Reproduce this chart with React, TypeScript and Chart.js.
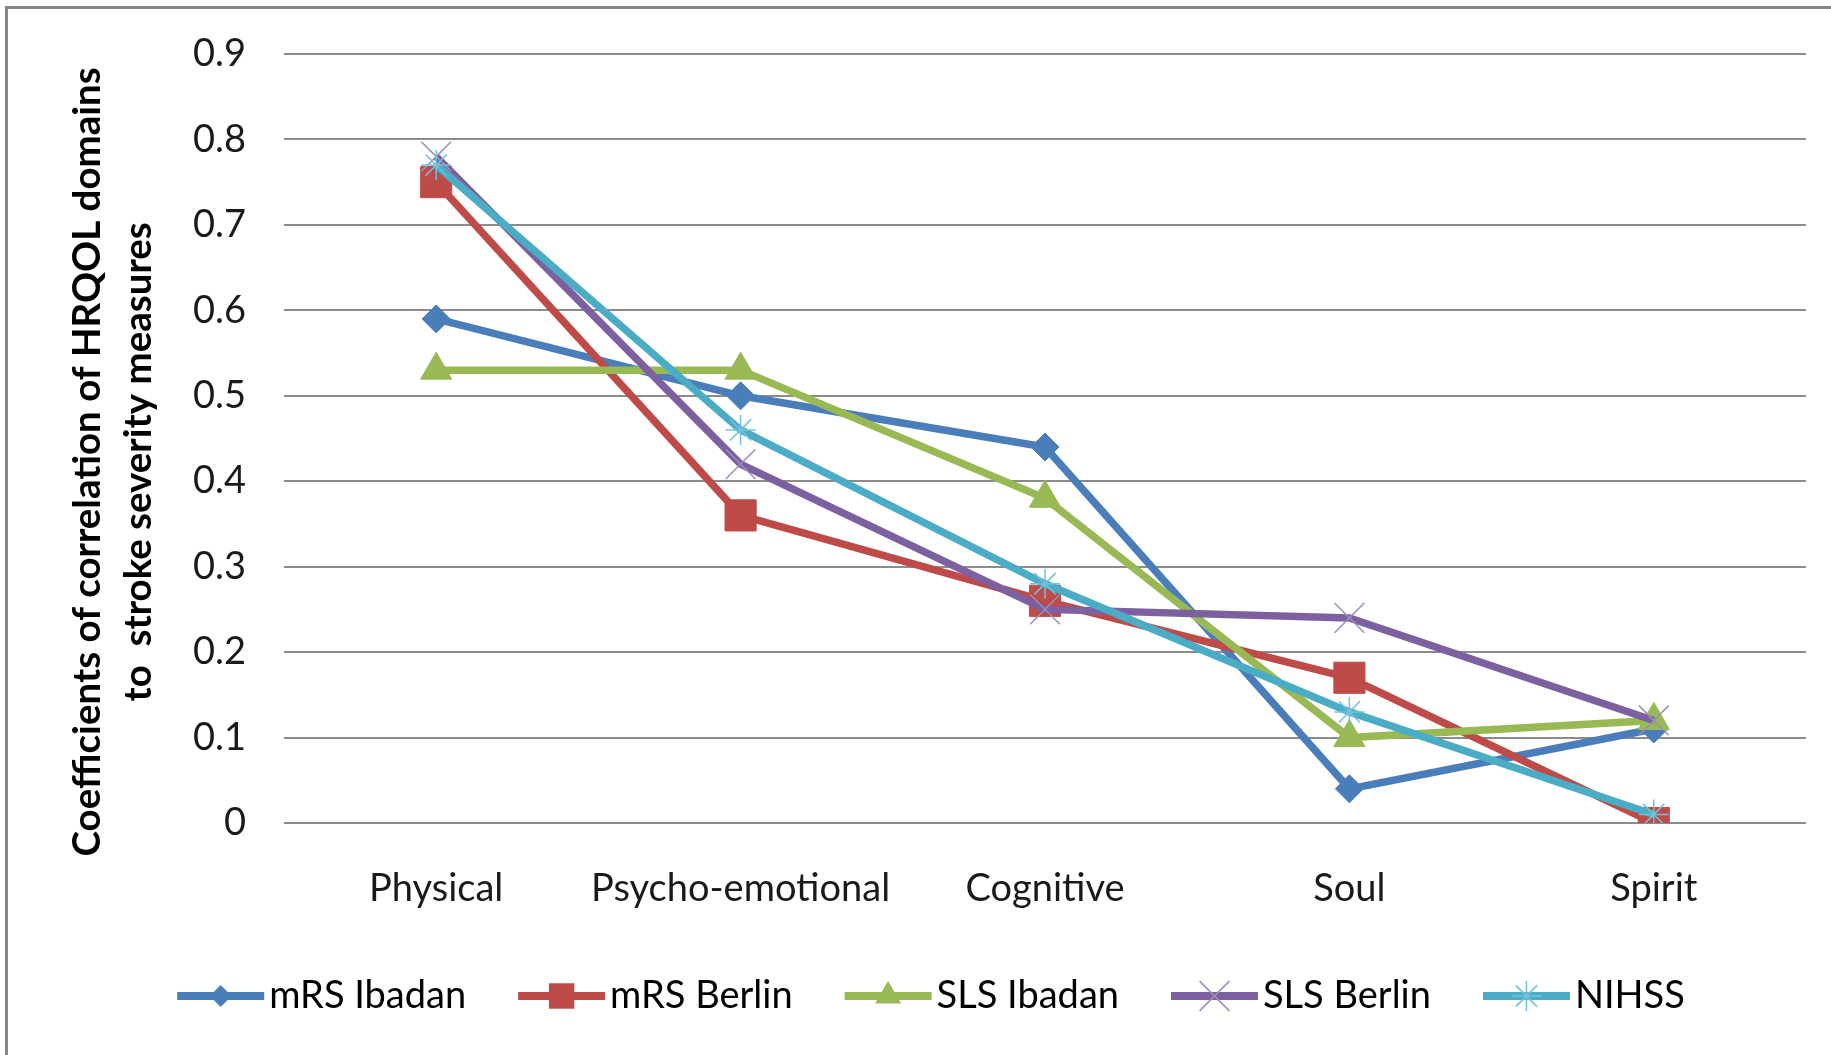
import React, { useEffect, useRef } from "react";
import { Chart, registerables } from "chart.js";

Chart.register(...registerables);

const categories = ["Physical", "Psycho-emotional", "Cognitive", "Soul", "Spirit"];
const mrsIbadan = [0.59, 0.5, 0.44, 0.04, 0.11];
const mrsBerlin = [0.75, 0.36, 0.26, 0.17, 0.0];
const slsIbadan = [0.53, 0.53, 0.38, 0.1, 0.12];
const slsBerlin = [0.78, 0.42, 0.25, 0.24, 0.12];
const nihss = [0.77, 0.46, 0.28, 0.13, 0.01];
const seriesNames = ["mRS Ibadan", "mRS Berlin", "SLS Ibadan", "SLS Berlin", "NIHSS"];
const yMin = 0;
const yMax = 0.9;
const yStep = 0.1;
const yTitle = [
  "Coefficients of correlation of HRQOL domains     ",
  "to  stroke severity measures     ",
];

const FONT = "Lato, 'Open Sans', sans-serif";

const styles = [
  { color: "#4A7EBB", point: "rectRot", radius: 14, border: "#4A7EBB", bw: 1, lr: 11 },
  { color: "#BE4B48", point: "rect", radius: 22, border: "#BE4B48", bw: 1, lr: 18 },
  { color: "#98B954", point: "triangle", radius: 18, border: "#98B954", bw: 1, lr: 15 },
  { color: "#7D60A0", point: "crossRot", radius: 21, border: "#9a8fb8", bw: 1.5, lr: 21 },
  { color: "#4BACC6", point: "star", radius: 15, border: "#6fc3d8", bw: 1.5, lr: 15 },
];

const LEG_LINE = 87;

function drawMarker(ctx: CanvasRenderingContext2D, s: any, x: number, y: number) {
  const r = s.lr;
  ctx.save();
  ctx.fillStyle = s.color;
  ctx.strokeStyle = s.border;
  ctx.lineWidth = s.bw;
  ctx.beginPath();
  if (s.point === "rectRot") {
    ctx.moveTo(x - r, y);
    ctx.lineTo(x, y - r);
    ctx.lineTo(x + r, y);
    ctx.lineTo(x, y + r);
    ctx.closePath();
    ctx.fill();
  } else if (s.point === "rect") {
    const h = r * Math.SQRT1_2;
    ctx.rect(x - h, y - h, 2 * h, 2 * h);
    ctx.fill();
  } else if (s.point === "triangle") {
    ctx.moveTo(x, y - r);
    ctx.lineTo(x + r * 0.866, y + r * 0.5);
    ctx.lineTo(x - r * 0.866, y + r * 0.5);
    ctx.closePath();
    ctx.fill();
  } else if (s.point === "crossRot") {
    const o = r * Math.SQRT1_2;
    ctx.moveTo(x - o, y - o);
    ctx.lineTo(x + o, y + o);
    ctx.moveTo(x - o, y + o);
    ctx.lineTo(x + o, y - o);
    ctx.stroke();
  } else if (s.point === "star") {
    const o = r * Math.SQRT1_2;
    ctx.moveTo(x - o, y - o);
    ctx.lineTo(x + o, y + o);
    ctx.moveTo(x - o, y + o);
    ctx.lineTo(x + o, y - o);
    ctx.moveTo(x, y - r);
    ctx.lineTo(x, y + r);
    ctx.moveTo(x - r, y);
    ctx.lineTo(x + r, y);
    ctx.stroke();
  }
  ctx.restore();
}

const frame = {
  id: "frame",
  beforeDraw(chart: any) {
    const ctx = chart.ctx;
    ctx.save();
    ctx.fillStyle = "#ffffff";
    ctx.fillRect(0, 0, chart.width, chart.height);
    ctx.strokeStyle = "#858585";
    ctx.lineWidth = 3;
    ctx.strokeRect(6.5, 7.5, chart.width + 20, chart.height + 20);
    ctx.restore();
  },
};

const legendMarkers = {
  id: "legendMarkers",
  afterDraw(chart: any) {
    const lg = chart.legend;
    if (!lg || !lg.legendHitBoxes) return;
    const ctx = chart.ctx;
    lg.legendHitBoxes.forEach((hb: any, i: number) => {
      const cy = hb.top + hb.height / 2;
      ctx.save();
      ctx.fillStyle = styles[i].color;
      ctx.fillRect(hb.left, cy - 4, LEG_LINE, 8);
      ctx.restore();
      drawMarker(ctx, styles[i], hb.left + LEG_LINE / 2, cy);
    });
  },
};

export default function App() {
  const ref = useRef<HTMLCanvasElement | null>(null);
  useEffect(() => {
    if (!ref.current) return;
    const data = [mrsIbadan, mrsBerlin, slsIbadan, slsBerlin, nihss];
    const chart = new Chart(ref.current, {
      type: "line",
      data: {
        labels: categories,
        datasets: data.map((d, i) => ({
          label: seriesNames[i],
          data: d,
          borderColor: styles[i].color,
          backgroundColor: styles[i].color,
          borderWidth: 7.5,
          tension: 0,
          fill: false,
          pointStyle: styles[i].point as any,
          pointRadius: styles[i].radius,
          pointBackgroundColor: styles[i].color,
          pointBorderColor: styles[i].border,
          pointBorderWidth: styles[i].bw,
          order: data.length - 1 - i,
        })),
      },
      options: {
        responsive: false,
        animation: false,
        layout: { padding: { left: 56, right: 25, top: 54, bottom: 30 } },
        plugins: {
          tooltip: { enabled: false },
          legend: {
            position: "bottom",
            labels: {
              boxWidth: 73,
              boxHeight: 8,
              padding: 52,
              color: "#1a1a1a",
              font: { family: FONT, size: 38 },
              generateLabels: () =>
                seriesNames.map((n, i) => ({
                  text: n,
                  fillStyle: "rgba(0,0,0,0)",
                  strokeStyle: "rgba(0,0,0,0)",
                  lineWidth: 0,
                  hidden: false,
                  datasetIndex: i,
                })),
            },
          },
        },
        scales: {
          x: {
            offset: true,
            grid: { display: false },
            border: { display: false },
            ticks: {
              color: "#1a1a1a",
              font: { family: FONT, size: 38 },
              padding: 35,
              maxRotation: 0,
              autoSkip: false,
            },
            afterFit: (s: any) => {
              s.height = 102;
            },
          },
          y: {
            min: yMin,
            max: yMax,
            grid: { color: "#8c8c8c", lineWidth: 2, drawTicks: false },
            border: { display: false },
            ticks: {
              stepSize: yStep,
              color: "#1a1a1a",
              font: { family: FONT, size: 38, lineHeight: 0.8 },
              padding: 38,
              callback: (v: any) => (Number(v) === 0 ? "0" : Number(v).toFixed(1)),
            },
            title: {
              display: true,
              text: yTitle,
              color: "#000000",
              font: { family: FONT, size: 38.5, weight: "bold", lineHeight: 1.32 },
              padding: { top: 6, bottom: 0 },
            },
            afterFit: (s: any) => {
              s.width = 228;
            },
          },
        },
      },
      plugins: [frame, legendMarkers],
    });
    return () => chart.destroy();
  }, []);
  return (
    <div style={{ position: "absolute", left: 0, top: 0, width: 1831, height: 1055, overflow: "hidden" }}>
      <canvas ref={ref} width={1831} height={1055} style={{ display: "block" }} />
    </div>
  );
}
